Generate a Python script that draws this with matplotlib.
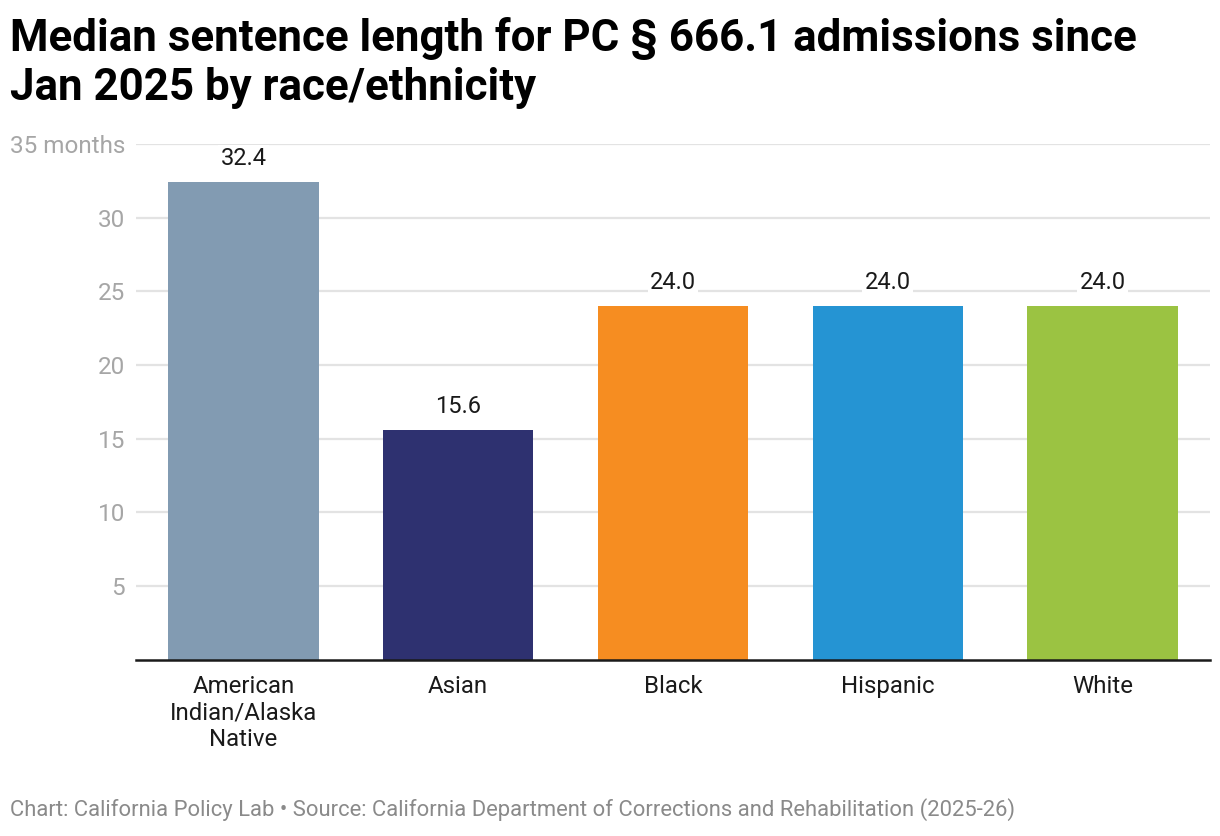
import matplotlib
matplotlib.use("Agg")
import matplotlib.pyplot as plt
from matplotlib.ticker import FixedLocator, FuncFormatter

plt.rcParams['font.family'] = ['Roboto', 'DejaVu Sans']

categories = ['American\nIndian/Alaska\nNative', 'Asian', 'Black', 'Hispanic', 'White']
values = [32.4, 15.6, 24.0, 24.0, 24.0]
colors = ['#829bb2', '#2e3170', '#f68d21', '#2594d3', '#9bc342']
y_ticks = [5, 10, 15, 20, 25, 30, 35]

title = 'Median sentence length for PC § 666.1 admissions since\nJan 2025 by race/ethnicity'
footer = ('Chart: California Policy Lab \u2022 Source: California Department of '
          'Corrections and Rehabilitation (2025-26)')

fig = plt.figure(figsize=(12.2, 8.36), dpi=100)
ax = fig.add_axes([0.1115, 0.2109, 0.8803, 0.6169])

x = range(len(categories))
bars = ax.bar(x, values, width=0.7, color=colors, zorder=2)

for bar, v in zip(bars, values):
    ax.annotate(f'{v:.1f}', (bar.get_x() + bar.get_width() / 2, v),
                xytext=(0, 16.8), textcoords='offset points',
                ha='center', va='center', fontsize=17, color='#1a1a1a',
                bbox=dict(boxstyle='square,pad=0.1', fc='white', ec='none'),
                zorder=3)

ax.set_xlim(-0.5, len(categories) - 0.5)
ax.set_ylim(0, 35)
ax.yaxis.set_major_locator(FixedLocator(y_ticks))
ax.yaxis.set_major_formatter(FuncFormatter(
    lambda v, p: f'{int(v)} months' if v == 35 else f'{int(v)}'))
ax.grid(axis='y', color='#e3e3e3', linewidth=1.6, zorder=0)
ax.set_axisbelow(True)

ax.set_xticks(list(x))
ax.set_xticklabels(categories, fontsize=17.3, color='#1a1a1a', linespacing=1.2)
ax.tick_params(axis='x', length=0, pad=11)
ax.tick_params(axis='y', length=0, pad=8, labelsize=17.5, labelcolor='#a6a6a6')

for s in ['top', 'right', 'left']:
    ax.spines[s].set_visible(False)
ax.spines['bottom'].set_color('#1a1a1a')
ax.spines['bottom'].set_linewidth(1.8)
ax.spines['bottom'].set_zorder(4)

fig.text(10 / 1220, 1 - 17 / 836, title, ha='left', va='top',
         fontsize=31.6, fontweight='bold', color='#000000', linespacing=1.2)
fig.text(10 / 1220, 1 - 810 / 836, footer, ha='left', va='center',
         fontsize=15.8, color='#8a8a8a')

fig.savefig('out.png', dpi=100)
